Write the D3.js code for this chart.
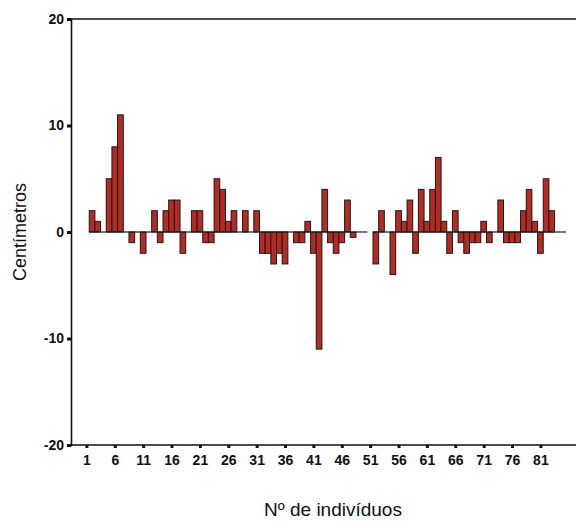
<!DOCTYPE html>
<html>
<head>
<meta charset="utf-8">
<script src="https://cdn.jsdelivr.net/npm/d3@7"></script>
<style>
  body { margin: 0; background: #fff; }
  text { font-family: "Liberation Sans", Arial, sans-serif; fill: #111; }
</style>
</head>
<body>
<svg width="576" height="522"></svg>
<script>
// individual number 1..85, null = no measurement
var individuals = d3.range(1, 86);
var values = [
  null, 2, 1, 0, 5, 8, 11, 0, -1, 0,
  -2, 0, 2, -1, 2, 3, 3, -2, 0, 2,
  2, -1, -1, 5, 4, 1, 2, 0, 2, 0,
  2, -2, -2, -3, -2, -3, 0, -1, -1, 1,
  -2, -11, 4, -1, -2, -1, 3, -0.5, 0, 0,
  null, -3, 2, 0, -4, 2, 1, 3, -2, 4,
  1, 4, 7, 1, -2, 2, -1, -2, -1, -1,
  1, -1, 0, 3, -1, -1, -1, 2, 4, 1,
  -2, 5, 2, 0, 0
];
var xTicks = [1, 6, 11, 16, 21, 26, 31, 36, 41, 46, 51, 56, 61, 66, 71, 76, 81];
var yTicks = [-20, -10, 0, 10, 20];

var svg = d3.select("svg");

var data = individuals.map(function(d, i) {
  return {id: d, value: values[i]};
}).filter(function(d) { return d.value !== null; });

var x = d3.scaleLinear().domain([1, 81]).range([86.4, 540.4]);
var y = d3.scaleLinear().domain([-20, 20]).range([445, 19]);

// frame: top line, y axis, x axis
svg.append("line")
  .attr("x1", 71).attr("x2", 576)
  .attr("y1", y(20)).attr("y2", y(20))
  .attr("stroke", "#111").attr("stroke-width", 1.6);

var yAxis = svg.append("g")
  .attr("transform", "translate(71,0)")
  .call(d3.axisLeft(y).tickValues(yTicks).tickSize(4).tickPadding(3)
    .tickFormat(function(d) { return String(d); }));
yAxis.select(".domain").attr("stroke", "#111").attr("stroke-width", 1.6);
yAxis.selectAll(".tick line").attr("stroke", "#111").attr("stroke-width", 3);
yAxis.selectAll(".tick text").attr("font-size", 14).attr("font-weight", "bold")
  .attr("font-family", "Liberation Sans");

var xAxis = svg.append("g")
  .attr("transform", "translate(0," + y(-20) + ")")
  .call(d3.axisBottom(x).tickValues(xTicks).tickSize(3).tickPadding(7));
xAxis.select(".domain").attr("d", "M71,0H576").attr("stroke", "#111").attr("stroke-width", 1.6);
xAxis.selectAll(".tick line").attr("stroke", "#111").attr("stroke-width", 3);
xAxis.selectAll(".tick text").attr("font-size", 14).attr("font-weight", "bold")
  .attr("font-family", "Liberation Sans");

// bars
svg.append("g")
  .selectAll("rect")
  .data(data.filter(function(d) { return d.value !== 0; }))
  .enter().append("rect")
  .attr("x", function(d) { return x(d.id - 0.5); })
  .attr("width", function(d) { return x(d.id + 0.5) - x(d.id - 0.5); })
  .attr("y", function(d) { return y(Math.max(0, d.value)); })
  .attr("height", function(d) { return Math.abs(y(d.value) - y(0)); })
  .attr("fill", "#b52a22")
  .attr("stroke", "#1a1a1a")
  .attr("stroke-width", 1);

// baseline drawn only where there is an individual
svg.append("g")
  .selectAll("line")
  .data(data)
  .enter().append("line")
  .attr("x1", function(d) { return x(d.id - 0.5); })
  .attr("x2", function(d) { return x(d.id + 0.5); })
  .attr("y1", y(0)).attr("y2", y(0))
  .attr("stroke", "#1a1a1a")
  .attr("stroke-width", 1.2);

svg.append("text")
  .attr("transform", "translate(26," + y(0) + ") rotate(-90)")
  .attr("text-anchor", "middle")
  .attr("font-size", 18)
  .text("Centímetros");

svg.append("text")
  .attr("x", 333)
  .attr("y", 516)
  .attr("text-anchor", "middle")
  .attr("font-size", 19)
  .text("Nº de indivíduos");
</script>
</body>
</html>
